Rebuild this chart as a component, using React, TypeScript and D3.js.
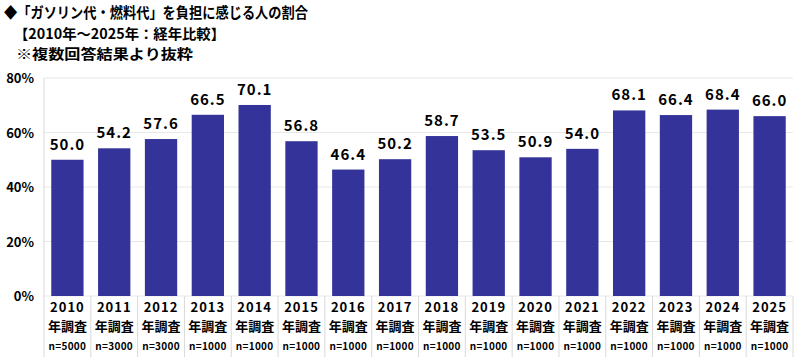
import React from "react";
import * as d3 from "d3";

const years = ["2010","2011","2012","2013","2014","2015","2016","2017","2018","2019","2020","2021","2022","2023","2024","2025"];
const values = [50.0,54.2,57.6,66.5,70.1,56.8,46.4,50.2,58.7,53.5,50.9,54.0,68.1,66.4,68.4,66.0];
const samples = ["n=5000","n=3000","n=3000","n=1000","n=1000","n=1000","n=1000","n=1000","n=1000","n=1000","n=1000","n=1000","n=1000","n=1000","n=1000","n=1000"];
const yTicks = [0,20,40,60,80];
const titleLines = ["◆「ガソリン代・燃料代」を負担に感じる人の割合","【2010年～2025年：経年比較】","※複数回答結果より抜粋"];

const W = 800, H = 357;
const left = 44, right = 793, top = 78, bottom = 296;
const font = "'Noto Sans CJK JP', 'Noto Sans', sans-serif";
const titleX = [4, 14, 16];
const titleY = [18, 39, 59];
const titleSize = [15, 14, 14];
const titleLen = [304, 211, 177];

export default function App() {
  const x = d3.scaleBand<string>().domain(years).range([left, right]).paddingInner(0.31).paddingOuter(0.155);
  const xb = d3.scaleBand<string>().domain(years).range([left, right]);
  const y = d3.scaleLinear().domain([0, 80]).range([bottom, top]);
  return (
    <svg width={W} height={H} style={{ position: "absolute", left: 0, top: 0, background: "#fff" }} fontFamily={font}>
      <rect width={W} height={H} fill="#fff" />
      {titleLines.map((t, i) => (
        <text key={i} x={titleX[i]} y={titleY[i]} fontSize={titleSize[i]} fontWeight="bold" fill="#000"
          textLength={titleLen[i]} lengthAdjust="spacingAndGlyphs">{t}</text>
      ))}
      {yTicks.map(t => (
        <g key={t}>
          <line x1={left} x2={right} y1={y(t)} y2={y(t)} stroke="#e8e8e8" strokeWidth={1} />
          <text x={34} y={y(t) + 5} textAnchor="end" fontSize={13} fontWeight="bold" fill="#000">{t}%</text>
        </g>
      ))}
      <line x1={left} x2={left} y1={top} y2={bottom} stroke="#d9d9d9" />
      {years.map((yr, i) => (
        <g key={yr}>
          <rect x={x(yr)} y={y(values[i])} width={x.bandwidth()} height={bottom - y(values[i])} fill="#333399" />
          <text x={x(yr)! + x.bandwidth() / 2} y={y(values[i]) - 10} textAnchor="middle" fontSize={15} fontWeight="bold" fill="#000" letterSpacing={1}>{values[i].toFixed(1)}</text>
          <text x={xb(yr)! + xb.bandwidth() / 2} y={312} textAnchor="middle" fontSize={13} fontWeight="bold" fill="#000" letterSpacing={1}>{yr}</text>
          <text x={xb(yr)! + xb.bandwidth() / 2} y={331} textAnchor="middle" fontSize={13} fontWeight="bold" fill="#000">年調査</text>
          <text x={xb(yr)! + xb.bandwidth() / 2} y={350} textAnchor="middle" fontSize={10} fontWeight="bold" fill="#000" letterSpacing={0.3}>{samples[i]}</text>
        </g>
      ))}
      {[...years.map(yr => xb(yr)!), right].map((px, i) => (
        <line key={i} x1={px} x2={px} y1={bottom} y2={H} stroke="#d9d9d9" />
      ))}
    </svg>
  );
}
